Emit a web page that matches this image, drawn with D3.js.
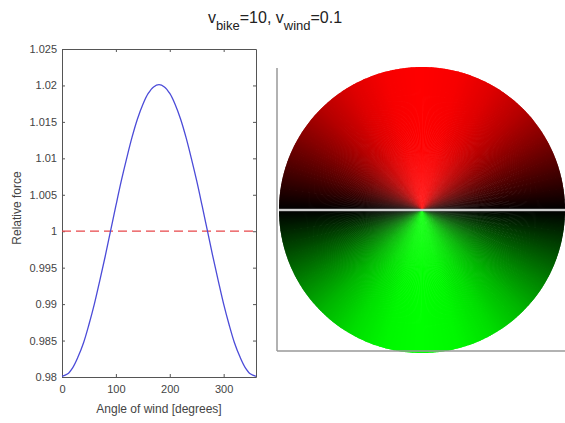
<!DOCTYPE html>
<html>
<head>
<meta charset="utf-8">
<script src="https://cdn.jsdelivr.net/npm/d3@7"></script>
<style>
    body { margin: 0; background: #fff; }
    text { font-family: "Liberation Sans", Arial, sans-serif; }
</style>
</head>
<body>
<script>
// wind angle vs relative force
var angles = [0, 10, 20, 30, 40, 50, 60, 70, 80, 90, 100, 110, 120, 130, 140, 150, 160, 170, 180,
              190, 200, 210, 220, 230, 240, 250, 260, 270, 280, 290, 300, 310, 320, 330, 340, 350, 360];
var relForce = [0.9801, 0.9804, 0.9813, 0.9828, 0.9847, 0.9872, 0.9900, 0.9932, 0.9965, 1.0000,
                1.0035, 1.0069, 1.0100, 1.0129, 1.0154, 1.0174, 1.0189, 1.0198, 1.0201,
                1.0198, 1.0189, 1.0174, 1.0154, 1.0129, 1.0100, 1.0069, 1.0035, 1.0000,
                0.9965, 0.9932, 0.9900, 0.9872, 0.9847, 0.9828, 0.9813, 0.9804, 0.9801];
var refLevel = 1;

var xTicks = [0, 100, 200, 300];
var yTicks = [0.98, 0.985, 0.99, 0.995, 1, 1.005, 1.01, 1.015, 1.02, 1.025];
var yTickLabels = ["0.98", "0.985", "0.99", "0.995", "1", "1.005", "1.01", "1.015", "1.02", "1.025"];

// shading of the disc: brightness vs angle away from the horizontal
var shadeAngle = [0, 15, 30, 45, 60, 75, 90];
var shadeLevel = [0, 0.26, 0.5, 0.71, 0.87, 0.97, 1];

var w = 565, h = 423;

var svg = d3.select("body").append("svg")
    .attr("width", w)
    .attr("height", h);

//title with subscripts
var title = svg.append("text")
    .attr("x", 275)
    .attr("y", 23)
    .attr("text-anchor", "middle")
    .style("font-size", "16px")
    .style("fill", "#222");
title.append("tspan").text("v");
title.append("tspan").attr("dy", 7).style("font-size", "13px").text("bike");
title.append("tspan").attr("dy", -7).text("=10, v");
title.append("tspan").attr("dy", 7).style("font-size", "13px").text("wind");
title.append("tspan").attr("dy", -7).text("=0.1");

// ---- left plot ----
var x = d3.scaleLinear().domain([0, 360]).range([62, 256]);
var y = d3.scaleLinear().domain([0.98, 1.025]).range([377, 49]);

var axisColor = "#555";

svg.append("g")
    .attr("transform", "translate(62,0)")
    .call(d3.axisLeft(y).tickValues(yTicks)
        .tickFormat(function(d, i) { return yTickLabels[i]; })
        .tickSizeInner(-3).tickSizeOuter(0).tickPadding(5));

svg.append("g")
    .attr("transform", "translate(0,377)")
    .call(d3.axisBottom(x).tickValues(xTicks)
        .tickSizeInner(-3).tickSizeOuter(0).tickPadding(8));

svg.append("g")
    .attr("transform", "translate(0,49)")
    .call(d3.axisTop(x).tickValues(xTicks).tickFormat("")
        .tickSizeInner(-3).tickSizeOuter(0));

svg.append("g")
    .attr("transform", "translate(256,0)")
    .call(d3.axisRight(y).tickValues(yTicks).tickFormat("")
        .tickSizeInner(-3).tickSizeOuter(0));

svg.selectAll(".domain, .tick line")
    .style("stroke", axisColor)
    .style("stroke-width", 1);
svg.selectAll(".tick text")
    .style("font-size", "11px")
    .style("fill", "#444")
    .style("font-family", "Liberation Sans, Arial, sans-serif");

//reference line
svg.append("line")
    .attr("x1", x(0)).attr("x2", x(360))
    .attr("y1", y(refLevel)).attr("y2", y(refLevel))
    .style("stroke", "#e8474a")
    .style("stroke-width", 1.3)
    .style("stroke-dasharray", "9,5");

//force curve
var line = d3.line()
    .x(function(d, i) { return x(angles[i]); })
    .y(function(d) { return y(d); })
    .curve(d3.curveCatmullRom);

svg.append("path")
    .datum(relForce)
    .attr("d", line)
    .style("fill", "none")
    .style("stroke", "#4b4bd8")
    .style("stroke-width", 1.3);

//axis labels
svg.append("text")
    .attr("x", 159).attr("y", 413)
    .attr("text-anchor", "middle")
    .style("font-size", "12px")
    .style("fill", "#444")
    .text("Angle of wind [degrees]");

svg.append("text")
    .attr("transform", "translate(21,208) rotate(-90)")
    .attr("text-anchor", "middle")
    .style("font-size", "12px")
    .style("fill", "#444")
    .text("Relative force");

// ---- right plot: shaded disc ----
var px = d3.scaleLinear().domain([-1, 1]).range([279, 565]);
var py = d3.scaleLinear().domain([-1, 1]).range([353, 67]);
var r = px(1) - px(0);

var shade = d3.scaleLinear().domain(shadeAngle).range(shadeLevel);

var step = 0.5;
var wedges = d3.range(0, 360, step);

//each wedge overlaps the next a little so no seams show
var arc = d3.arc()
    .innerRadius(0)
    .outerRadius(r)
    .startAngle(function(d) { return (90 - d - step - 0.4) * Math.PI / 180; })
    .endAngle(function(d) { return (90 - d) * Math.PI / 180; });

function wedgeColor(d) {
    var mid = d + step / 2;
    var a = mid <= 180 ? Math.min(mid, 180 - mid) : Math.min(mid - 180, 360 - mid);
    var v = Math.round(255 * shade(a));
    return mid <= 180 ? d3.rgb(v, 0, 0) : d3.rgb(0, v, 0);
}

svg.append("g")
    .attr("transform", "translate(" + px(0) + "," + py(0) + ")")
    .selectAll("path")
    .data(wedges)
    .enter()
    .append("path")
    .attr("d", arc)
    .style("fill", wedgeColor);

//horizontal line through the centre
svg.append("line")
    .attr("x1", px(-1)).attr("x2", px(1))
    .attr("y1", py(0)).attr("y2", py(0))
    .style("stroke", "#aaa")
    .style("stroke-width", 2.5);
svg.append("line")
    .attr("x1", px(-1)).attr("x2", px(1))
    .attr("y1", py(0)).attr("y2", py(0))
    .style("stroke", "#f2f2f2")
    .style("stroke-width", 1);

//axes of the disc plot
svg.append("line")
    .attr("x1", 277).attr("x2", 277)
    .attr("y1", 68).attr("y2", 351)
    .style("stroke", "#999")
    .style("stroke-width", 1.5);
svg.append("line")
    .attr("x1", 277).attr("x2", w)
    .attr("y1", 351).attr("y2", 351)
    .style("stroke", "#999")
    .style("stroke-width", 1.5);
</script>
</body>
</html>
